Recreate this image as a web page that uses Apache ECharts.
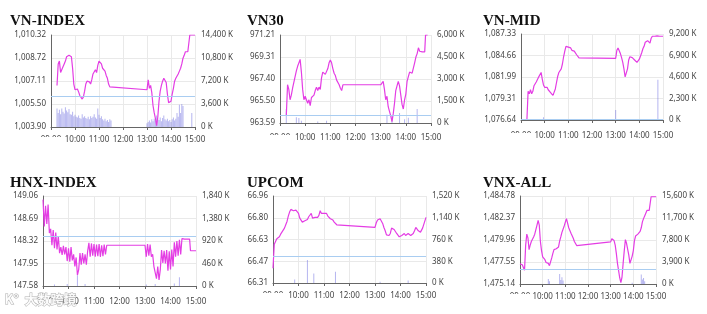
<!DOCTYPE html>
<html><head><meta charset="utf-8">
<script src="https://cdn.jsdelivr.net/npm/echarts@6/dist/echarts.min.js"></script>
<style>html,body{margin:0;padding:0;background:#fff;}#c{width:707px;height:314px;}</style>
</head><body><div id="c"></div>
<script>
const _ = null;
const hourLabels = ["09:00","10:00","11:00","12:00","13:00","14:00","15:00"];
const times = [
"09:00","09:03","09:06","09:09","09:12","09:15","09:18","09:21","09:24","09:27",
"09:30","09:33","09:36","09:39","09:42","09:45","09:48","09:51","09:54","09:57",
"10:00","10:03","10:06","10:09","10:12","10:15","10:18","10:21","10:24","10:27",
"10:30","10:33","10:36","10:39","10:42","10:45","10:48","10:51","10:54","10:57",
"11:00","11:03","11:06","11:09","11:12","11:15","11:18","11:21","11:24","11:27",
"11:30",
"13:00","13:03","13:06","13:09","13:12","13:15","13:18","13:21","13:24","13:27",
"13:30","13:33","13:36","13:39","13:42","13:45","13:48","13:51","13:54","13:57",
"14:00","14:03","14:06","14:09","14:12","14:15","14:18","14:21","14:24","14:27",
"14:30","14:33","14:36","14:39","14:42","14:45",
"14:47","14:52","15:00"];

// VN-INDEX
const vnIndexTicks = ["1,003.90","1,005.50","1,007.11","1,008.72","1,010.32"];
const vnIndexVolTicks = ["0 K","3,600 K","7,200 K","10,800 K","14,400 K"];
const vnIndexRef = 1006.02;
const vnIndexPrice = [
_,_,_,_,_,1006.8,1008.3,1008.5,1007.7,1007.8,
1008.1,1008.3,1008.5,1008.8,1008.7,1008.9,1008.95,1008.8,1008.0,1006.9,
1006.5,1006.4,1006.55,1006.35,1006.1,1006.0,1005.85,1006.0,1006.4,1006.9,
1007.1,1007.0,1007.05,1006.9,1007.2,1007.6,1007.7,1007.9,1007.7,1008.2,
1008.5,1008.6,1008.3,1008.0,1007.9,1007.8,1007.5,1007.3,1006.9,1006.7,
1006.65,
1006.5,1007.2,1006.6,1006.8,1006.3,1005.4,1004.9,1004.5,1004.0,1004.6,
1005.7,1006.4,1006.8,1007.1,1007.3,1007.4,1007.0,1006.2,1005.6,1005.5,
1005.7,1006.2,1006.6,1007.1,1007.3,1007.4,1007.6,1007.8,1008.0,1008.3,
1008.7,1008.9,1009.15,1009.15,1009.15,1009.15,
1010.32,1010.32,1010.32];
const vnIndexVolume = [
_,_,_,_,_,2900,2200,2700,2000,2900,
2400,2100,3100,2600,2300,2800,2000,1900,2400,1700,
1900,1600,1500,1800,1400,1300,2000,1500,1700,1400,
1300,1600,1200,1700,1400,1600,2000,1500,1300,2900,
1900,1400,1700,1200,1000,1300,900,1100,800,1200,
1000,
600,800,1000,700,1200,900,1300,1000,1800,1300,
1100,1500,900,1400,1800,1200,1000,1300,900,1100,
800,1200,1500,1000,1300,2200,1600,3500,2200,3600,
3300,_,_,_,_,_,
_,2200,_];

// VN30
const vn30Ticks = ["963.59","965.50","967.40","969.31","971.21"];
const vn30VolTicks = ["0 K","1,500 K","3,000 K","4,500 K","6,000 K"];
const vn30Ref = 964.22;
const vn30Price = [
_,_,_,_,_,964.2,966.9,966.5,965.6,966.0,
966.6,967.1,967.6,968.1,968.5,968.8,969.1,968.0,966.5,965.6,
965.9,965.6,965.3,965.6,965.1,965.8,965.7,966.0,966.4,966.7,
966.4,966.7,966.5,967.5,968.0,968.0,967.8,967.9,968.3,968.8,
969.05,968.8,968.3,967.9,967.7,967.3,967.2,966.9,966.6,966.4,
966.9,
966.9,967.0,967.2,966.5,965.6,965.9,965.0,964.6,964.2,963.7,
964.4,965.3,966.4,966.8,967.2,966.8,966.0,965.2,964.8,965.6,
966.1,967.2,967.6,968.0,968.1,967.9,968.0,968.8,969.3,969.6,
970.1,969.8,969.75,969.75,969.75,969.75,
971.21,971.21,_];
const vn30Volume = [
_,_,_,_,_,950,_,_,_,_,
_,_,_,400,_,340,_,150,_,_,
_,_,_,_,_,_,_,_,_,_,
100,_,_,_,_,_,_,150,_,_,
_,_,_,_,_,_,_,_,_,_,
_,
_,_,_,_,_,560,_,_,_,500,
_,_,_,_,_,680,_,_,_,250,
_,_,350,_,_,_,_,_,_,950,
_,_,_,_,_,_,
_,_,_];

// VN-MID
const vnMidTicks = ["1,076.64","1,079.31","1,081.99","1,084.66","1,087.33"];
const vnMidVolTicks = ["0 K","2,300 K","4,600 K","6,900 K","9,200 K"];
const vnMidRef = 1076.70;
const vnMidPrice = [
_,_,_,_,_,1076.7,1080.2,1079.9,1080.4,1079.9,
1080.2,1080.9,1081.1,1081.4,1081.7,1082.0,1082.2,1082.55,1081.7,1081.0,
1080.7,1080.5,1080.7,1080.4,1080.3,1080.05,1080.0,1079.7,1079.55,1080.5,
1081.3,1082.05,1082.55,1082.7,1083.0,1083.6,1084.5,1085.2,1085.8,1085.6,
1085.7,1085.5,1085.6,1085.3,1085.5,1085.2,1085.05,1084.75,1084.55,1084.35,
1084.3,
1084.3,1085.3,1085.6,1085.5,1084.9,1084.4,1083.8,1083.0,1082.0,1082.0,
1083.0,1084.1,1084.5,1084.6,1084.4,1084.5,1084.1,1083.9,1083.8,1084.0,
1084.2,1084.6,1085.0,1085.5,1085.8,1086.3,1086.45,1086.5,1086.5,1086.2,
1086.8,1087.05,1087.05,1087.05,1087.05,1087.1,
1087.2,1087.05,1087.05];
const vnMidVolume = [
_,_,_,_,_,_,100,_,_,_,
_,_,_,_,_,_,_,_,_,290,
_,_,_,_,_,_,_,80,_,_,
_,_,_,_,_,_,_,_,_,_,
_,_,60,_,_,_,_,_,_,_,
_,
1070,_,_,_,_,_,_,_,80,_,
_,_,_,_,_,_,_,_,_,_,
80,_,_,_,_,_,_,_,120,_,
_,_,_,_,_,_,
4300,_,_];

// HNX-INDEX
const hnxTicks = ["147.58","147.95","148.32","148.69","149.06"];
const hnxVolTicks = ["0 K","460 K","920 K","1,380 K","1,840 K"];
const hnxRef = 148.40;
const hnxPrice = [
149.00,148.56,148.90,148.60,148.92,148.45,148.52,148.25,148.50,148.20,
148.46,148.18,148.40,148.12,148.22,148.09,148.24,148.10,148.22,147.99,
148.20,147.98,148.22,148.00,148.10,147.90,148.05,147.76,147.85,148.12,
147.93,148.12,147.95,148.10,147.93,148.15,148.29,148.06,148.28,148.08,
148.27,148.06,148.26,148.07,148.27,148.06,148.25,148.07,148.26,148.10,
148.25,
148.25,148.06,148.27,148.08,148.26,148.06,148.10,147.90,147.92,147.70,
147.90,147.68,147.85,148.17,147.96,148.16,147.95,148.17,147.83,148.15,
147.85,148.18,147.90,148.30,148.06,148.32,148.08,148.34,148.10,148.36,
148.35,148.35,148.35,148.35,148.35,148.35,
148.16,148.16,148.16];
const hnxVolume = [
_,_,_,_,_,_,_,_,_,30,
_,_,_,_,_,_,_,_,_,40,
_,_,_,_,_,_,_,220,_,_,
_,_,_,40,_,_,_,_,_,_,
_,_,_,_,_,_,_,_,_,_,
_,
_,30,_,_,_,_,_,_,40,_,
_,_,_,_,_,_,_,_,_,_,
_,_,_,50,_,_,_,180,_,_,
_,_,_,_,_,_,
_,_,_];

// UPCOM
const upcomTicks = ["66.31","66.47","66.63","66.80","66.96"];
const upcomVolTicks = ["0 K","380 K","760 K","1,140 K","1,520 K"];
const upcomRef = 66.51;
const upcomPrice = [
66.42,66.60,66.62,66.64,66.645,66.655,66.675,66.69,66.70,66.72,
66.745,66.77,66.81,66.84,66.86,66.855,66.85,66.845,66.855,66.86,
66.83,66.795,66.78,66.765,66.76,66.775,66.78,66.785,66.805,66.815,
66.83,66.795,66.805,66.80,66.81,66.80,66.815,66.85,66.83,66.825,
66.83,66.825,66.83,66.81,66.805,66.79,66.78,66.78,66.765,66.755,
66.745,
66.725,66.76,66.78,66.79,66.79,66.78,66.755,66.725,66.70,66.67,
66.66,66.665,66.68,66.72,66.72,66.71,66.695,66.68,66.675,66.655,
66.66,66.665,66.67,66.68,66.665,66.66,66.68,66.67,66.665,66.665,
66.68,66.70,66.725,66.715,66.70,66.695,
66.69,66.72,66.80];
const upcomVolume = [
_,_,_,_,_,_,_,_,_,_,
_,_,_,_,_,_,_,60,_,_,
_,_,_,_,_,_,_,400,_,_,
_,_,165,_,_,_,_,_,_,_,
_,_,_,_,_,_,_,_,_,195,
_,
_,_,_,_,20,_,_,_,_,_,
_,_,_,_,_,_,_,_,_,_,
_,_,_,_,_,_,45,_,_,_,
_,_,_,_,_,_,
_,_,_];

// VNX-ALL
const vnxTicks = ["1,475.14","1,477.55","1,479.96","1,482.37","1,484.78"];
const vnxVolTicks = ["0 K","3,900 K","7,800 K","11,700 K","15,600 K"];
const vnxRef = 1476.80;
const vnxPrice = [
1477.35,1477.3,1477.25,1477.1,1476.65,1479.4,1480.6,1480.2,1478.9,1479.4,
1479.8,1479.9,1480.3,1480.6,1481.1,1481.6,1482.1,1481.6,1479.8,1478.8,
1478.1,1478.3,1477.8,1477.5,1477.3,1477.4,1477.15,1477.0,1478.0,1478.5,
1478.9,1478.8,1479.0,1479.1,1479.2,1479.85,1480.3,1480.8,1481.0,1481.5,
1481.9,1482.3,1481.8,1481.3,1481.0,1480.7,1480.5,1480.15,1479.8,1479.6,
1479.35,
1479.75,1480.1,1480.0,1479.9,1479.4,1478.5,1477.4,1476.6,1475.8,1475.3,
1475.9,1477.4,1478.8,1480.0,1479.6,1479.4,1478.3,1477.4,1477.6,1478.2,
1478.8,1479.9,1480.4,1480.4,1480.6,1480.75,1480.9,1481.3,1481.95,1482.3,
1482.6,1482.9,1483.2,1483.2,1483.2,1483.2,
1484.7,1484.7,1484.7];
const vnxVolume = [
_,_,_,_,_,_,_,_,_,_,
_,_,_,_,_,_,_,_,_,_,
_,_,_,_,_,890,500,_,_,_,
_,_,_,_,_,1790,700,1190,600,_,
_,_,_,_,_,_,_,_,_,_,
_,
_,_,_,_,_,_,_,_,_,_,
_,_,_,_,_,_,_,_,_,240,
_,_,_,_,_,_,_,1670,800,1070,
500,_,_,_,_,_,
_,_,_];

const charts = [
 {title:"VN-INDEX", price:vnIndexPrice, vol:vnIndexVolume, ticks:vnIndexTicks, volTicks:vnIndexVolTicks, ref:vnIndexRef,
  grid:{left:51,top:35,width:144,height:92}, tl:10, tt:14, xm:9},
 {title:"VN30", price:vn30Price, vol:vn30Volume, ticks:vn30Ticks, volTicks:vn30VolTicks, ref:vn30Ref,
  grid:{left:280,top:35,width:151,height:88}, tl:247, tt:14, xm:11},
 {title:"VN-MID", price:vnMidPrice, vol:vnMidVolume, ticks:vnMidTicks, volTicks:vnMidVolTicks, ref:vnMidRef,
  grid:{left:521,top:34,width:142,height:86}, tl:483, tt:14, xm:12},
 {title:"HNX-INDEX", price:hnxPrice, vol:hnxVolume, ticks:hnxTicks, volTicks:hnxVolTicks, ref:hnxRef,
  grid:{left:43,top:196,width:153,height:90}, tl:10, tt:176, xm:12},
 {title:"UPCOM", price:upcomPrice, vol:upcomVolume, ticks:upcomTicks, volTicks:upcomVolTicks, ref:upcomRef,
  grid:{left:273,top:196,width:153,height:87}, tl:247, tt:176, xm:9},
 {title:"VNX-ALL", price:vnxPrice, vol:vnxVolume, ticks:vnxTicks, volTicks:vnxVolTicks, ref:vnxRef,
  grid:{left:520,top:196,width:136,height:88}, tl:483, tt:176, xm:9}
];

const num = s => parseFloat(s.replace(/[, K]/g, ''));
const toMin = s => { const p = s.split(':'); return (+p[0] - 9) * 60 + (+p[1]); };
const FONT = 'Noto Sans';
const LBL = '#444';
const AX = '#666';
const SPL = '#e9e9e9';

const option = {animation:false, title:[], grid:[], xAxis:[], yAxis:[], series:[], graphic:[]};
charts.forEach((c, i) => {
  const lo = num(c.ticks[0]), hi = num(c.ticks[4]);
  const norm = v => (v - lo) / (hi - lo) * 4;
  const vmax = num(c.volTicks[4]);
  option.title.push({text:c.title, left:c.tl, top:c.tt, padding:0,
    textStyle:{fontFamily:'Liberation Serif', fontWeight:'bold', fontSize:15, color:'#111'}});
  option.grid.push(Object.assign({containLabel:false}, c.grid));
  option.xAxis.push({type:'value', gridIndex:i, min:0, max:360, interval:60,
    axisLine:{onZero:false, lineStyle:{color:AX}},
    axisTick:{show:true, length:3, lineStyle:{color:AX}},
    axisLabel:{fontFamily:FONT, fontSize:8, color:LBL, margin:c.xm, formatter:v => hourLabels[Math.round(v / 60)]},
    splitLine:{show:true, lineStyle:{color:SPL}}});
  option.yAxis.push({type:'value', gridIndex:i, min:0, max:4, interval:1,
    axisLine:{show:true, lineStyle:{color:AX}}, axisTick:{show:false},
    axisLabel:{fontFamily:FONT, fontSize:8, color:LBL, margin:5, formatter:v => c.ticks[Math.round(v)]},
    splitLine:{show:true, lineStyle:{color:SPL}}});
  option.yAxis.push({type:'value', gridIndex:i, position:'right', min:0, max:vmax, interval:vmax / 4,
    axisLine:{show:false}, axisTick:{show:false},
    axisLabel:{fontFamily:FONT, fontSize:8, color:LBL, margin:6, formatter:v => c.volTicks[Math.round(v / vmax * 4)]},
    splitLine:{show:false}});
  const bars = [], line = [];
  times.forEach((t, k) => {
    if (c.vol[k] != null) bars.push([toMin(t), c.vol[k]]);
    if (c.price[k] != null) line.push([toMin(t), norm(c.price[k])]);
  });
  option.series.push({type:'bar', xAxisIndex:i, yAxisIndex:2 * i + 1, data:bars, barWidth:1,
    itemStyle:{color:'rgba(110,110,225,0.5)'}, silent:true, z:1});
  option.series.push({type:'line', xAxisIndex:i, yAxisIndex:2 * i, data:line, showSymbol:false, symbol:'none',
    lineStyle:{color:'#e43de4', width:1.2}, silent:true, z:3,
    markLine:{silent:true, symbol:'none', label:{show:false}, animation:false,
      lineStyle:{color:'#a9cdf1', width:1, type:'solid'}, data:[{yAxis:norm(c.ref)}]}});
  // partly hidden first time label
  const g = c.grid;
  option.graphic.push({type:'rect', left:g.left - 14, top:g.top + g.height + c.xm + 1, shape:{width:26, height:5},
    style:{fill:'#fff'}, z:100, silent:true});
});
option.graphic.push({type:'text', left:4, top:292, z:101, silent:true,
  style:{text:'K°  大数跨境', font:'bold 13px "Noto Sans CJK SC"', fill:'rgba(255,255,255,0.9)', stroke:'#b0b0b0', lineWidth:1}});

const chart = echarts.init(document.getElementById('c'), null, {renderer:'canvas'});
chart.setOption(option);
</script></body></html>
